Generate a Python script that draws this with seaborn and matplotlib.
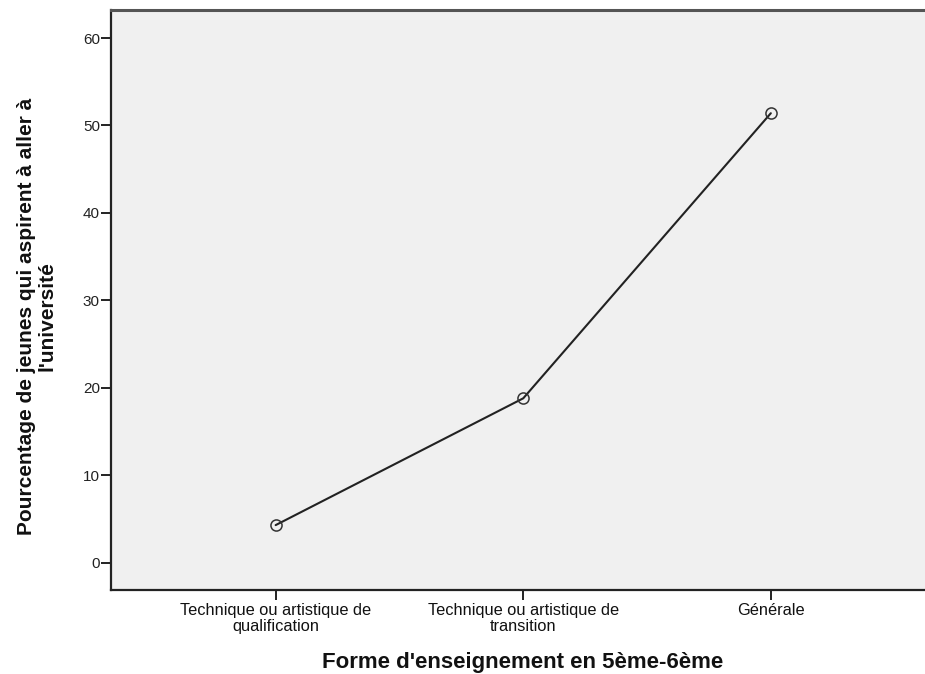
import matplotlib
matplotlib.use("Agg")
import matplotlib.pyplot as plt
import seaborn as sns
import pandas as pd

# data
categories = [
    "Technique ou artistique de\nqualification",
    "Technique ou artistique de\ntransition",
    "Générale",
]
pct_university = [4.3, 18.8, 51.4]
y_ticks = [0, 10, 20, 30, 40, 50, 60]

df = pd.DataFrame({"forme": range(len(categories)), "pct": pct_university})

sns.set_style("ticks")
plt.rcParams["font.family"] = ["Liberation Sans", "DejaVu Sans"]

fig = plt.figure(figsize=(9.25, 6.74), dpi=100)
ax = fig.add_axes([111 / 925, 1 - 590 / 674, 1 - 111 / 925 + 0.01, (590 - 9.5) / 674])
ax.set_facecolor("#f0f0f0")

sns.lineplot(
    data=df,
    x="forme",
    y="pct",
    color="#222222",
    linewidth=1.5,
    marker="o",
    markersize=8,
    markerfacecolor="none",
    markeredgecolor="#333333",
    markeredgewidth=1.1,
    ax=ax,
)

ax.set_xlim(-0.665, 2.66)
ax.set_ylim(-3.12, 63.26)
ax.set_xticks(range(len(categories)))
ax.set_xticklabels(categories, fontsize=11.8, linespacing=1.05, color="#111111")
ax.set_yticks(y_ticks)
ax.set_yticklabels([str(v) for v in y_ticks], fontsize=11, color="#222222")
ax.tick_params(axis="both", direction="out", length=7.5, width=1.4, color="#222222")
ax.tick_params(axis="x", pad=2)
ax.tick_params(axis="y", pad=0.5)

for side in ["left", "bottom", "top"]:
    ax.spines[side].set_visible(True)
    ax.spines[side].set_color("#222222")
    ax.spines[side].set_linewidth(1.6)
ax.spines["top"].set_color("#555555")
ax.spines["top"].set_linewidth(2.2)
ax.spines["right"].set_visible(False)

ax.set_xlabel("Forme d'enseignement en 5ème-6ème", fontsize=16,
              fontweight="bold", labelpad=13, color="#111111")
ax.set_ylabel("Pourcentage de jeunes qui aspirent à aller à\nl'université",
              fontsize=15, fontweight="bold", linespacing=1.1, color="#111111")
ax.yaxis.set_label_coords(-0.066, 0.472)

plt.savefig("out.png", dpi=100, facecolor="white")
